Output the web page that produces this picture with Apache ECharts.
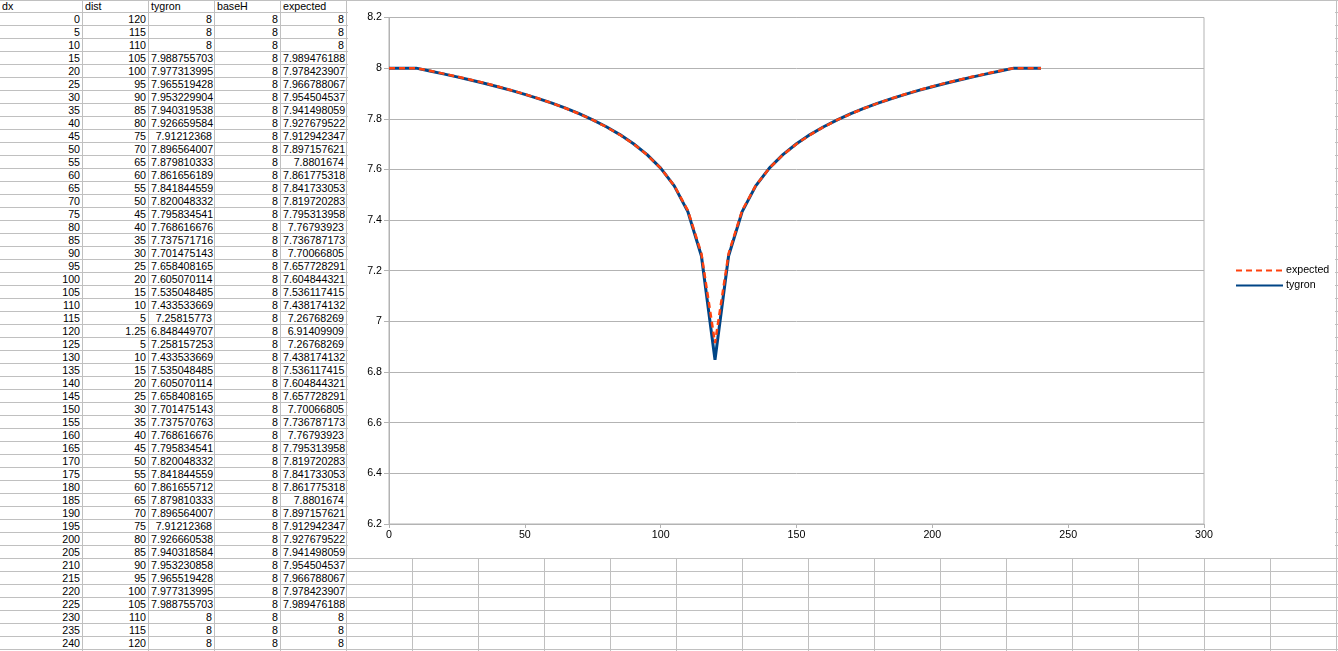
<!DOCTYPE html>
<html><head><meta charset="utf-8">
<script src="https://cdn.jsdelivr.net/npm/echarts@6/dist/echarts.min.js"></script>
<style>
html,body{margin:0;padding:0;background:#fff;width:1338px;height:651px;overflow:hidden;font-family:"Liberation Sans",Arial,sans-serif;}
#sheet{position:absolute;left:0;top:0;width:1338px;height:651px;}
.c{position:absolute;box-sizing:border-box;border-right:1px solid #c0c0c0;border-bottom:1px solid #c0c0c0;height:13px;font-size:10.67px;line-height:12px;padding:0 2px;white-space:nowrap;color:#000;}
.r{text-align:right}
#chart{position:absolute;left:348px;top:0;width:987px;height:558px;background:#fff;z-index:3}
#topline{position:absolute;left:0;top:0;width:1338px;height:1px;background:#c0c0c0;z-index:5}
</style></head>
<body>
<div id="sheet"></div>
<div id="chart"></div>
<div id="topline"></div>
<script>
const headers = ['dx','dist','tygron','baseH','expected'];
const dx = [0,5,10,15,20,25,30,35,40,45,50,55,60,65,70,75,80,85,90,95,100,105,110,115,120,125,130,135,140,145,150,155,160,165,170,175,180,185,190,195,200,205,210,215,220,225,230,235,240];
const dist = [120,115,110,105,100,95,90,85,80,75,70,65,60,55,50,45,40,35,30,25,20,15,10,5,1.25,5,10,15,20,25,30,35,40,45,50,55,60,65,70,75,80,85,90,95,100,105,110,115,120];
const tygron = [8,8,8,7.988755703,7.977313995,7.965519428,7.953229904,7.940319538,7.926659584,7.91212368,7.896564007,7.879810333,7.861656189,7.841844559,7.820048332,7.795834541,7.768616676,7.737571716,7.701475143,7.658408165,7.605070114,7.535048485,7.433533669,7.25815773,6.848449707,7.258157253,7.433533669,7.535048485,7.605070114,7.658408165,7.701475143,7.737570763,7.768616676,7.795834541,7.820048332,7.841844559,7.861655712,7.879810333,7.896564007,7.91212368,7.926660538,7.940318584,7.953230858,7.965519428,7.977313995,7.988755703,8,8,8];
const baseH = [8,8,8,8,8,8,8,8,8,8,8,8,8,8,8,8,8,8,8,8,8,8,8,8,8,8,8,8,8,8,8,8,8,8,8,8,8,8,8,8,8,8,8,8,8,8,8,8,8];
const expected = [8,8,8,7.989476188,7.978423907,7.966788067,7.954504537,7.941498059,7.927679522,7.912942347,7.897157621,7.8801674,7.861775318,7.841733053,7.819720283,7.795313958,7.76793923,7.736787173,7.70066805,7.657728291,7.604844321,7.536117415,7.438174132,7.26768269,6.91409909,7.26768269,7.438174132,7.536117415,7.604844321,7.657728291,7.70066805,7.736787173,7.76793923,7.795313958,7.819720283,7.841733053,7.861775318,7.8801674,7.897157621,7.912942347,7.927679522,7.941498059,7.954504537,7.966788067,7.978423907,7.989476188,8,8,8];
const xTicks = {min:0, max:300, interval:50};
const yTicks = {min:6.2, max:8.2, interval:0.2};

// spreadsheet grid
const sheet = document.getElementById('sheet');
const cols = [];
let x = 0;
while (x < 1338) { const w = cols.length === 0 ? 83 : 66; cols.push([x, w]); x += w; }
const columnsData = [dx, dist, tygron, baseH, expected];
let html = '';
for (let r = 0; r < 51; r++) {
  for (let c = 0; c < cols.length; c++) {
    let txt = '', cls = 'c';
    if (c < 5) {
      if (r === 0) txt = headers[c];
      else if (r - 1 < dx.length) { txt = String(columnsData[c][r - 1]); cls += ' r'; }
    }
    html += '<div class="' + cls + '" style="left:' + cols[c][0] + 'px;top:' + (r * 13) + 'px;width:' + cols[c][1] + 'px">' + txt + '</div>';
  }
}
sheet.innerHTML = html;

const chart = echarts.init(document.getElementById('chart'), null, {renderer:'canvas'});
const font = 'Liberation Sans';
const axisGray = '#b3b3b3';
chart.setOption({
  animation: false,
  backgroundColor: '#fff',
  grid: {left: 41, right: 131, top: 17.5, bottom: 34, show: true, borderColor: axisGray, borderWidth: 1},
  legend: {
    orient: 'vertical', left: 882, top: 260,
    itemWidth: 47, itemHeight: 10, itemGap: 4,
    itemStyle: {opacity: 0},
    textStyle: {fontFamily: font, fontSize: 10.67, color: '#000', padding: [0,0,0,-2], lineHeight: 11},
    data: ['expected', 'tygron']
  },
  xAxis: {
    type: 'value', min: xTicks.min, max: xTicks.max, interval: xTicks.interval,
    axisLine: {show: true, lineStyle: {color: axisGray}},
    axisTick: {show: true, length: 4, lineStyle: {color: axisGray}},
    axisLabel: {color: '#000', fontFamily: font, fontSize: 10.67, margin: 6},
    splitLine: {show: false}
  },
  yAxis: {
    type: 'value', min: yTicks.min, max: yTicks.max, interval: yTicks.interval,
    axisLine: {show: true, lineStyle: {color: axisGray}},
    axisTick: {show: true, length: 5, lineStyle: {color: axisGray}},
    axisLabel: {color: '#000', fontFamily: font, fontSize: 10.67, margin: 7,
      formatter: v => String(+(+v).toFixed(1))},
    splitLine: {show: true, lineStyle: {color: axisGray, width: 1}}
  },
  series: [
    {name: 'tygron', type: 'line', symbol: 'none',
     data: dx.map((v, i) => [v, tygron[i]]),
     lineStyle: {color: '#004586', width: 3}, itemStyle: {color: '#004586'}, z: 2},
    {name: 'expected', type: 'line', symbol: 'none',
     data: dx.map((v, i) => [v, expected[i]]),
     lineStyle: {color: '#ff420e', width: 2.5, type: [6, 4]}, itemStyle: {color: '#ff420e'}, z: 3}
  ]
});
</script>
</body></html>
